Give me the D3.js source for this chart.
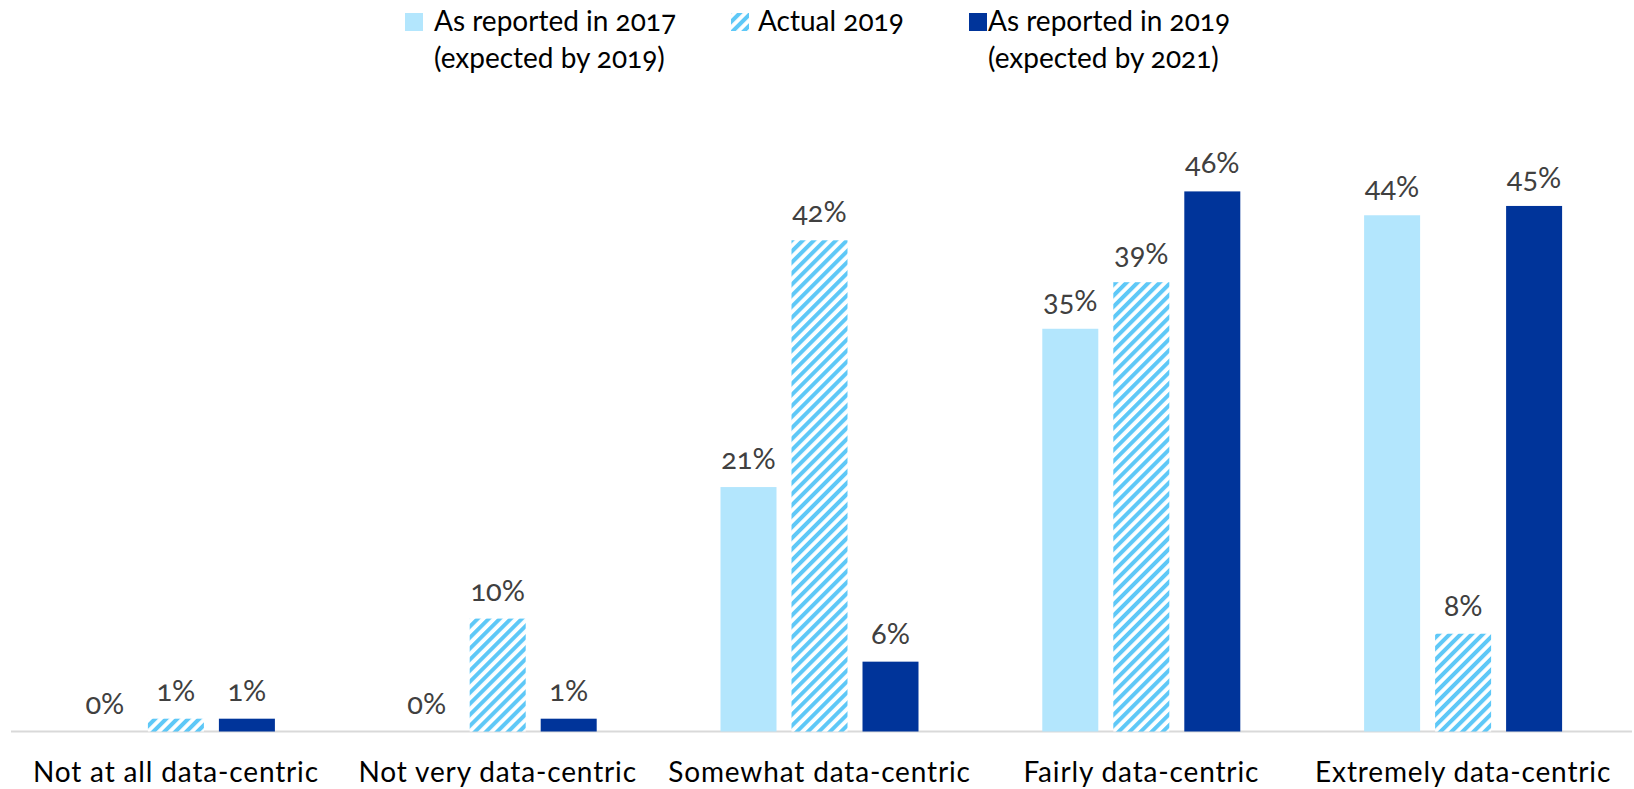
<!DOCTYPE html>
<html>
<head>
<meta charset="utf-8">
<script src="https://cdn.jsdelivr.net/npm/d3@7"></script>
<style>
  body { margin: 0; background: #fff; }
  svg { display: block; font-family: Lato, "Open Sans", sans-serif; font-feature-settings: "onum" 1; }
</style>
</head>
<body>
<div class="chart"></div>
<script>
const categories = ['Not at all data-centric', 'Not very data-centric', 'Somewhat data-centric', 'Fairly data-centric', 'Extremely data-centric'];
const seriesNames = ['reported2017', 'actual2019', 'reported2019'];
// bar values (labels show them rounded)
const reported2017 = [0, 0, 21.0, 34.6, 44.35];
const actual2019 = [1.1, 9.7, 42.2, 38.6, 8.4];
const reported2019 = [1.1, 1.1, 6.0, 46.4, 45.15];
const legendLines = [
  ['As reported in 2017', '(expected by 2019)'],
  ['Actual 2019'],
  ['As reported in 2019', '(expected by 2021)']
];

const width = 1634;
const height = 789;
const margin = { top: 149.5, right: 10, bottom: 57.5, left: 15 };

const values = { reported2017, actual2019, reported2019 };
const rows = categories.map((c, i) => ({ cat: c, vals: seriesNames.map(s => ({ key: s, v: values[s][i] })) }));

const svg = d3.select('.chart')
  .append('svg')
  .attr('width', width)
  .attr('height', height);

const defs = svg.append('defs');
const pat = defs.append('pattern')
  .attr('id', 'hatch')
  .attr('patternUnits', 'userSpaceOnUse')
  .attr('width', 7.8)
  .attr('height', 7.8)
  .attr('patternTransform', 'rotate(45)');
pat.append('rect').attr('width', 7.8).attr('height', 7.8).attr('fill', '#fff');
pat.append('rect').attr('width', 4).attr('height', 7.8).attr('fill', '#5ec8f7');

const fills = { reported2017: '#b3e6fd', actual2019: 'url(#hatch)', reported2019: '#00349a' };

const x0 = d3.scaleBand()
  .domain(categories)
  .range([margin.left, width - margin.right]);
// group = 3 bars of 56 with 15 gaps
const x1 = d3.scaleBand()
  .domain(seriesNames)
  .range([0, 198])
  .paddingInner(15 / 71);

const y = d3.scaleLinear()
  .domain([0, 50])
  .range([height - margin.bottom, margin.top]);

// baseline
svg.append('line')
  .attr('x1', 11).attr('x2', 1632)
  .attr('y1', y(0)).attr('y2', y(0))
  .attr('stroke', '#d9d9d9')
  .attr('stroke-width', 2);

const groups = svg.selectAll('g.grp')
  .data(rows)
  .join('g')
  .attr('class', 'grp')
  .attr('transform', d => `translate(${x0(d.cat) + x0.bandwidth() / 2 - 99}, 0)`);

groups.selectAll('rect')
  .data(d => d.vals.filter(v => v.v > 0))
  .join('rect')
  .attr('x', d => x1(d.key))
  .attr('width', x1.bandwidth())
  .attr('y', d => y(d.v))
  .attr('height', d => y(0) - y(d.v))
  .attr('fill', d => fills[d.key]);

groups.selectAll('text.val')
  .data(d => d.vals)
  .join('text')
  .attr('class', 'val')
  .attr('x', d => x1(d.key) + x1.bandwidth() / 2)
  .attr('y', d => y(d.v) - 18)
  .attr('text-anchor', 'middle')
  .attr('fill', '#404040')
  .style('font-size', '29px')
  .text(d => Math.round(d.v) + '%');

// category labels
const xAxis = d3.axisBottom(x0).tickSize(0).tickPadding(0);
const ax = svg.append('g')
  .attr('transform', `translate(0, ${y(0)})`)
  .call(xAxis);
ax.select('.domain').remove();
ax.selectAll('text')
  .attr('dy', null)
  .attr('y', 50.5)
  .attr('fill', '#000')
  .style('font-family', 'Lato, sans-serif')
  .style('font-size', '28px')
  .style('letter-spacing', '0.85px');

// legend
const legendSwatchX = [405, 731, 969];
const legendTextX = [434, 758, 988];
const leg = svg.selectAll('g.leg')
  .data(seriesNames)
  .join('g')
  .attr('class', 'leg');
leg.append('rect')
  .attr('x', (d, i) => legendSwatchX[i]).attr('y', 13)
  .attr('width', 18).attr('height', 18)
  .attr('fill', d => fills[d]);
leg.each(function(d, i) {
  const t = d3.select(this).append('text')
    .attr('fill', '#000')
    .style('font-size', '28px');
  legendLines[i].forEach((line, j) => {
    t.append('tspan')
      .attr('x', legendTextX[i])
      .attr('y', 31 + j * 37)
      .text(line);
  });
});
</script>
</body>
</html>
